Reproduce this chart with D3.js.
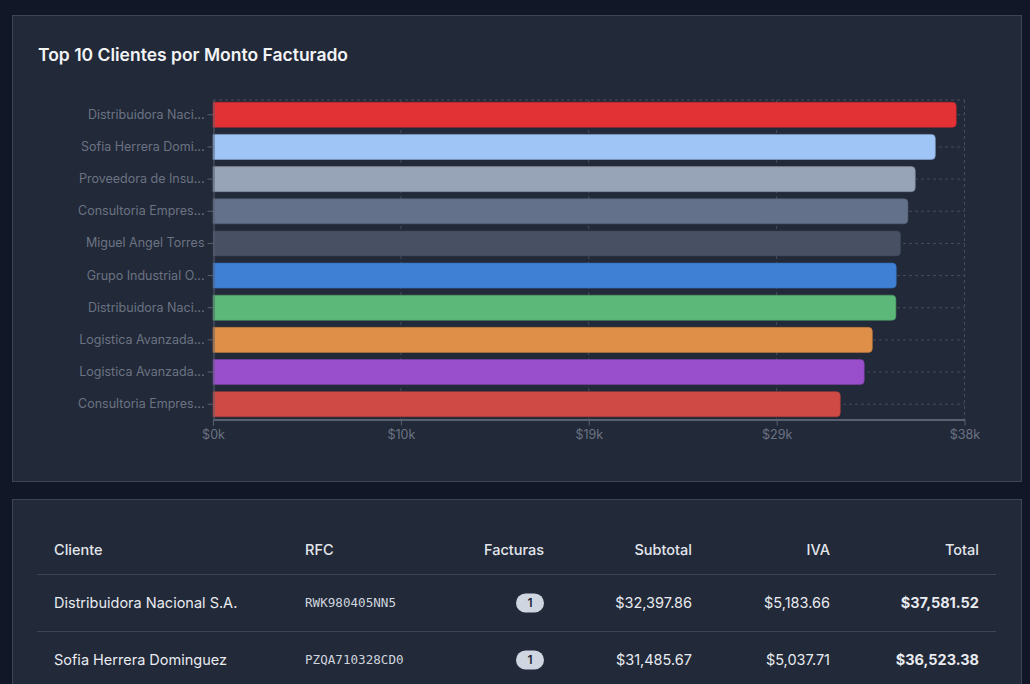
<!DOCTYPE html>
<html lang="es">
<head>
  <meta charset="UTF-8">
  <title>Top 10 Clientes</title>
  <script src="https://cdn.jsdelivr.net/npm/d3@7"></script>
  <style>
    body {
      margin: 0;
      background: #111726;
      font-family: Inter, "Noto Sans", sans-serif;
      overflow: hidden;
    }
    .card {
      fill: #222938;
      stroke: #3c4557;
    }
    .title {
      fill: #f3f4f6;
      font-size: 17.5px;
      font-weight: 600;
    }
    .axis text {
      fill: #6b7383;
      font-size: 12.5px;
      font-family: Inter, sans-serif;
    }
    .axis path, .axis line {
      stroke: #596170;
    }
    .grid line {
      stroke: #444c5d;
      stroke-dasharray: 3 3;
    }
    .th {
      fill: #e2e6ec;
      font-size: 14.5px;
      font-weight: 500;
    }
    .td {
      fill: #e8ebf0;
      font-size: 14.5px;
    }
    .mono {
      fill: #cfd5de;
      font-size: 12.6px;
      font-family: "DejaVu Sans Mono", monospace;
    }
  </style>
</head>
<body>
  <svg width="1030" height="684"></svg>
  <script>
    // datos del grafico
    const clientes = ['Distribuidora Naci...', 'Sofia Herrera Domi...', 'Proveedora de Insu...', 'Consultoria Empres...',
      'Miguel Angel Torres', 'Grupo Industrial O...', 'Distribuidora Naci...', 'Logistica Avanzada...',
      'Logistica Avanzada...', 'Consultoria Empres...'];
    const montos = [37581.52, 36523.38, 35510, 35140, 34770, 34550, 34530, 33340, 32930, 31720];
    const colores = ['#e33236', '#9ec5f6', '#97a3b6', '#64718a', '#475163', '#3f7fd4', '#5cb879', '#df8f48', '#994ecb', '#cf4a45'];
    const xTicks = [0, 9500, 19000, 28500, 38000];

    // datos de la tabla
    const columnas = ['Cliente', 'RFC', 'Facturas', 'Subtotal', 'IVA', 'Total'];
    const tablaClientes = ['Distribuidora Nacional S.A.', 'Sofia Herrera Dominguez'];
    const tablaRfc = ['RWK980405NN5', 'PZQA710328CD0'];
    const tablaFacturas = [1, 1];
    const tablaSubtotal = [32397.86, 31485.67];
    const tablaIva = [5183.66, 5037.71];
    const tablaTotal = [37581.52, 36523.38];

    const svg = d3.select('svg');

    // tarjetas
    svg.append('rect').attr('class', 'card')
      .attr('x', 12.5).attr('y', 15.5).attr('width', 1009).attr('height', 466);
    svg.append('rect').attr('class', 'card')
      .attr('x', 12.5).attr('y', 499.5).attr('width', 1009).attr('height', 300);

    svg.append('text').attr('class', 'title')
      .attr('x', 38).attr('y', 61)
      .text('Top 10 Clientes por Monto Facturado');

    const x = d3.scaleLinear().domain([0, 38000]).range([213, 964.5]);
    const y = d3.scaleBand().domain(d3.range(clientes.length))
      .range([100, 419]).paddingInner(0.22).paddingOuter(0.07);

    // rejilla
    const grid = svg.append('g').attr('class', 'grid');
    grid.selectAll('.v').data(xTicks.slice(1)).enter().append('line')
      .attr('x1', d => x(d)).attr('x2', d => x(d))
      .attr('y1', 100).attr('y2', 419);
    grid.selectAll('.h').data(d3.range(clientes.length)).enter().append('line')
      .attr('x1', 213).attr('x2', x(38000))
      .attr('y1', i => y(i) + y.bandwidth() / 2).attr('y2', i => y(i) + y.bandwidth() / 2);
    grid.append('line').attr('x1', 213).attr('x2', x(38000)).attr('y1', 100).attr('y2', 100);

    // barras con esquinas derechas redondeadas
    const r = 4;
    svg.append('g').selectAll('path').data(montos).enter().append('path')
      .attr('d', (d, i) => {
        const x0 = x(0), x1 = x(d), y0 = y(i), h = y.bandwidth();
        return `M${x0},${y0}H${x1 - r}Q${x1},${y0} ${x1},${y0 + r}V${y0 + h - r}Q${x1},${y0 + h} ${x1 - r},${y0 + h}H${x0}Z`;
      })
      .attr('fill', (d, i) => colores[i])
      .attr('stroke', (d, i) => d3.color(colores[i]).darker(0.5))
      .attr('stroke-opacity', 0.6)
      .attr('stroke-width', 1);

    // ejes
    svg.append('g').attr('class', 'axis')
      .attr('transform', 'translate(0,419.5)')
      .call(d3.axisBottom(x).tickValues(xTicks).tickSizeOuter(0).tickPadding(5)
        .tickFormat(d => `$${(d / 1000).toFixed(0)}k`))
      .select('.domain').attr('stroke-width', 2);

    svg.append('g').attr('class', 'axis')
      .attr('transform', 'translate(213.5,0)')
      .call(d3.axisLeft(y).tickSizeOuter(0).tickPadding(3).tickFormat(i => clientes[i]));

    // tabla
    const colX = [54, 305, 544, 692, 830, 979];
    const colAnchor = ['start', 'start', 'end', 'end', 'end', 'end'];
    const money = d3.format('$,.2f');

    svg.append('g').selectAll('text').data(columnas).enter().append('text')
      .attr('class', 'th')
      .attr('x', (d, i) => colX[i]).attr('y', 550)
      .attr('dy', '0.35em')
      .attr('text-anchor', (d, i) => colAnchor[i])
      .text(d => d);

    svg.append('line').attr('x1', 37).attr('x2', 996)
      .attr('y1', 574.5).attr('y2', 574.5).attr('stroke', '#3c4557');

    const rows = svg.append('g').selectAll('g').data(tablaClientes).enter().append('g')
      .attr('transform', (d, i) => `translate(0,${603 + i * 57})`);

    rows.append('text').attr('class', 'td').attr('x', colX[0]).attr('dy', '0.35em').text(d => d);
    rows.append('text').attr('class', 'mono').attr('x', colX[1]).attr('dy', '0.35em').text((d, i) => tablaRfc[i]);
    rows.append('rect').attr('x', 516).attr('y', -9.5).attr('width', 28).attr('height', 19)
      .attr('rx', 9.5).attr('fill', '#cfd6e1');
    rows.append('text').attr('x', 530).attr('dy', '0.35em').attr('text-anchor', 'middle')
      .attr('font-size', 12).attr('font-weight', 600).attr('fill', '#1e2433')
      .text((d, i) => tablaFacturas[i]);
    rows.append('text').attr('class', 'td').attr('x', colX[3]).attr('dy', '0.35em').attr('text-anchor', 'end')
      .text((d, i) => money(tablaSubtotal[i]));
    rows.append('text').attr('class', 'td').attr('x', colX[4]).attr('dy', '0.35em').attr('text-anchor', 'end')
      .text((d, i) => money(tablaIva[i]));
    rows.append('text').attr('class', 'td').attr('x', colX[5]).attr('dy', '0.35em').attr('text-anchor', 'end')
      .attr('font-weight', 700).attr('fill', '#ffffff')
      .text((d, i) => money(tablaTotal[i]));

    svg.append('line').attr('x1', 37).attr('x2', 996)
      .attr('y1', 631.5).attr('y2', 631.5).attr('stroke', '#3c4557');
  </script>
</body>
</html>
